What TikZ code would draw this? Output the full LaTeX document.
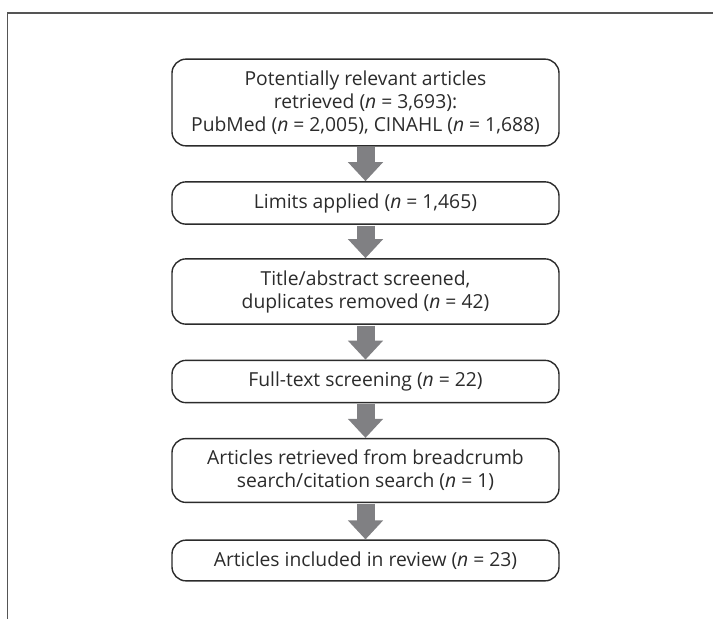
\documentclass[tikz,border=0pt]{standalone}
\usepackage{fontspec}
\setmainfont{Open Sans}
\usetikzlibrary{arrows.meta}
\definecolor{boxline}{HTML}{2B2B2B}
\definecolor{arrowgray}{HTML}{808083}
\definecolor{frameline}{HTML}{555555}

\begin{document}
\begin{tikzpicture}[x=1pt,y=-1pt,
	box/.style={draw=boxline,line width=1.4pt,rounded corners=14pt,minimum width=387pt,inner ysep=11.5pt,align=center,text=boxline,font=\fontsize{19.3}{23}\selectfont},
	flow/.style={line width=18pt,draw=arrowgray,shorten <=0.7pt,-{Triangle[width=34pt,length=19pt]}}]
	\useasboundingbox (0,0) rectangle (713,619);
	\draw[frameline,line width=1.3pt] (713,13) -- (7.5,13) -- (7.5,619);

	\draw (365.5,102.5) node (found) [box] {Potentially relevant articles\\retrieved (\textit{n} = 3,693):\\PubMed (\textit{n} = 2,005), CINAHL (\textit{n} = 1,688)};
	\draw (365.5,203) node (limits) [box] {Limits applied (\textit{n} = 1,465)};
	\draw (365.5,291.5) node (screened) [box] {Title/abstract screened,\\duplicates removed (\textit{n} = 42)};
	\draw (365.5,381.5) node (fulltext) [box] {Full-text screening (\textit{n} = 22)};
	\draw (365.5,470.5) node (crumb) [box] {Articles retrieved from breadcrumb\\search/citation search (\textit{n} = 1)};
	\draw (365.5,560.5) node (included) [box] {Articles included in review (\textit{n} = 23)};

	\draw[flow] (found) -- (limits);
	\draw[flow] (limits) -- (screened);
	\draw[flow] (screened) -- (fulltext);
	\draw[flow] (fulltext) -- (crumb);
	\draw[flow] (crumb) -- (included);
\end{tikzpicture}
\end{document}
